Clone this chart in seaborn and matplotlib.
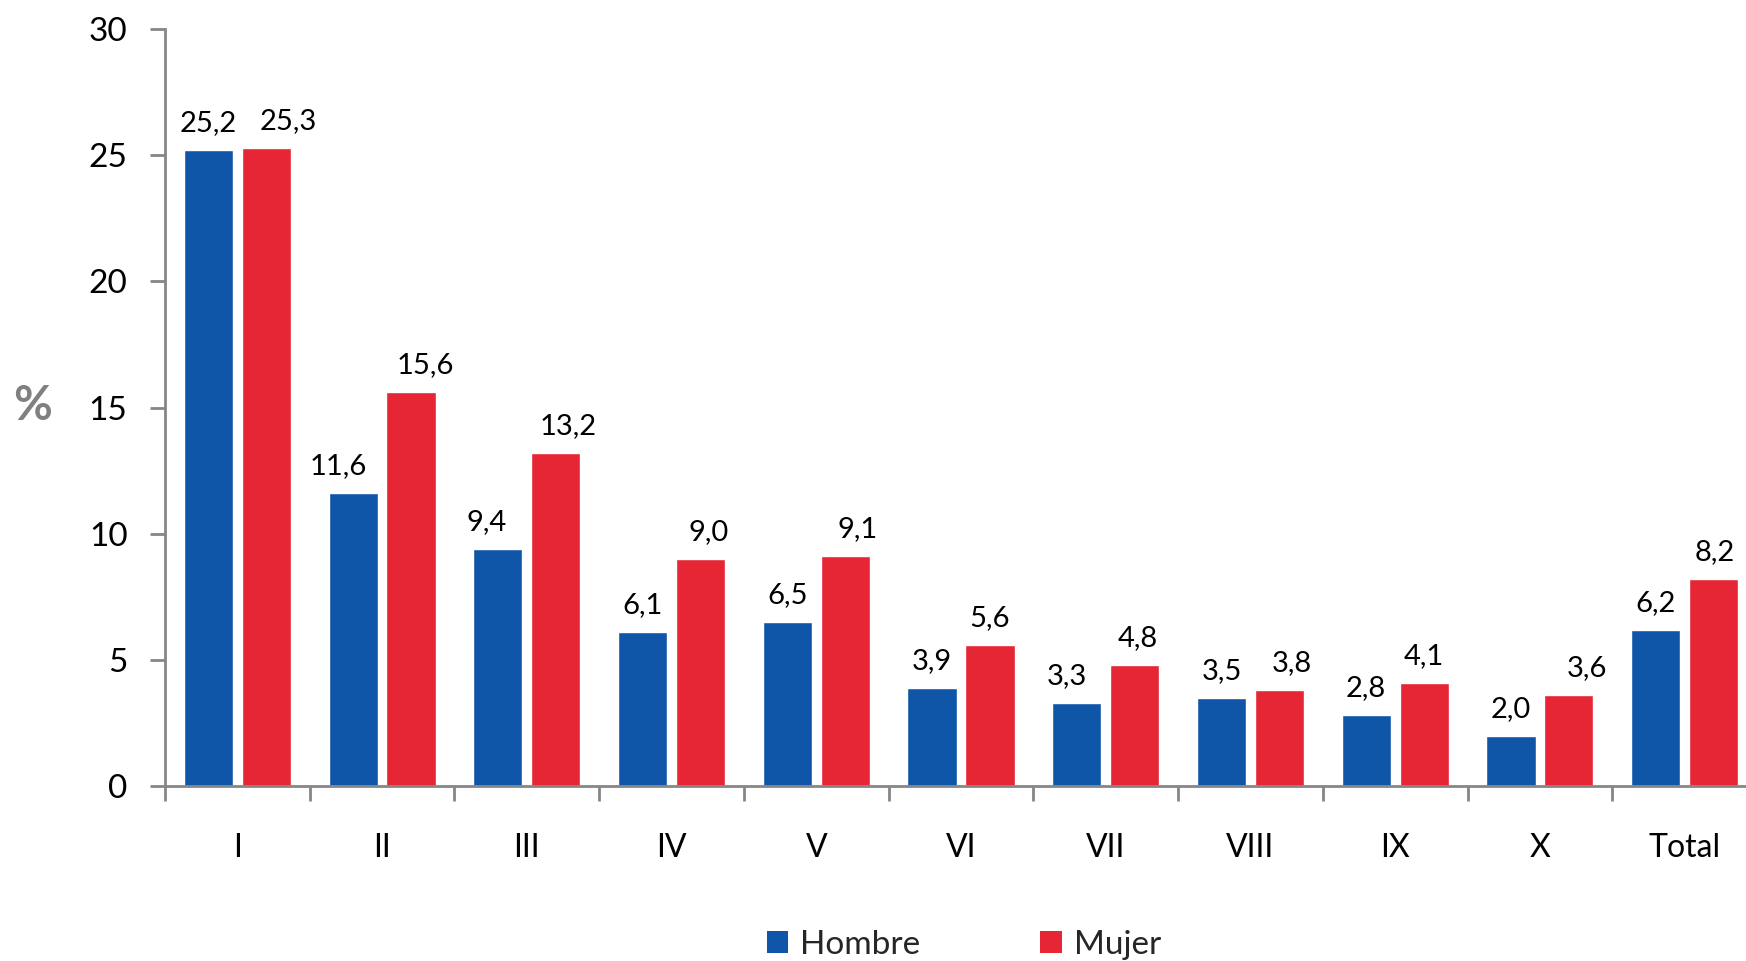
import matplotlib
matplotlib.use("Agg")
import matplotlib.pyplot as plt
import seaborn as sns
import pandas as pd
from matplotlib.patches import Patch

categories = ["I", "II", "III", "IV", "V", "VI", "VII", "VIII", "IX", "X", "Total"]
hombre = [25.2, 11.6, 9.4, 6.1, 6.5, 3.9, 3.3, 3.5, 2.8, 2.0, 6.2]
mujer = [25.3, 15.6, 13.2, 9.0, 9.1, 5.6, 4.8, 3.8, 4.1, 3.6, 8.2]
series_names = ["Hombre", "Mujer"]
colors = ["#0F56A8", "#E62634"]
y_ticks = [0, 5, 10, 15, 20, 25, 30]

# horizontal nudges (points) of the value labels, as placed in the original
label_dx = [
    [0, -11, -8, 0, 0, 0, -7, 0, 0, 0, 0],
    [16, 10, 9, 6, 9, 0, 2, 9, 0, 13, 1],
]

df = pd.DataFrame({
    "cat": categories * 2,
    "val": hombre + mujer,
    "sexo": [series_names[0]] * len(categories) + [series_names[1]] * len(categories),
})

sns.set_theme(style="white")
plt.rcParams["font.family"] = ["Lato", "DejaVu Sans"]

fig = plt.figure(figsize=(17.46, 9.61), dpi=100)
ax = fig.add_axes([165 / 1746, 1 - 786 / 961, (1757 - 165) / 1746, (786 - 29) / 961])

sns.barplot(data=df, x="cat", y="val", hue="sexo", order=categories,
            hue_order=series_names, palette=colors, gap=0.15, width=0.8,
            saturation=1, ax=ax, legend=False)

for si, cont in enumerate(ax.containers):
    for bi, b in enumerate(cont):
        h = b.get_height()
        ax.annotate(f"{h:.1f}".replace(".", ","),
                    xy=(b.get_x() + b.get_width() / 2, h),
                    xytext=(label_dx[si][bi], 10), textcoords="offset points",
                    ha="center", va="bottom", fontsize=21, color="black")

ax.set_ylim(0, 30)
ax.set_xlim(-0.5, len(categories) - 0.5)
ax.set_yticks(y_ticks)
ax.set_xlabel("")
ax.set_ylabel("")

gray = "#868686"
for s in ["top", "right"]:
    ax.spines[s].set_visible(False)
for s in ["left", "bottom"]:
    ax.spines[s].set_color(gray)
    ax.spines[s].set_linewidth(2)

ax.tick_params(axis="y", which="major", length=11, width=2, color=gray,
               labelsize=24, pad=16, left=True, labelcolor="black")
ax.tick_params(axis="x", which="major", length=0, labelsize=23, pad=34,
               labelcolor="black")
ax.set_xticks([i - 0.5 for i in range(len(categories) + 1)], minor=True)
ax.tick_params(axis="x", which="minor", length=11, width=2, color=gray, bottom=True)

fig.text(33 / 1746, 1 - 406 / 961, "%", fontsize=34, fontweight="bold",
         color="#808080", ha="center", va="center")

handles = [Patch(facecolor=c, edgecolor="none") for c in colors]
fig.legend(handles, series_names, loc="center", bbox_to_anchor=(0.552, 0.017),
           ncol=2, frameon=False, fontsize=24, handlelength=0.65, handleheight=0.65,
           handletextpad=0.35, columnspacing=3.6)

fig.savefig("out.png", dpi=100)
